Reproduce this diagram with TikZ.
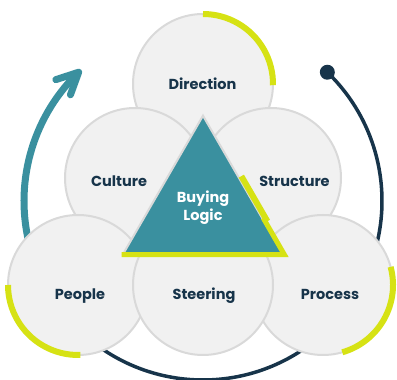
\documentclass[tikz,border=0pt]{standalone}
\usepackage{fontspec}
\setmainfont{Poppins}
\usetikzlibrary{
  positioning,
  shapes.geometric,
  arrows.meta,
  calc
}

\definecolor{ringgray}{HTML}{D9D9D9}
\definecolor{ringfill}{HTML}{F1F1F1}
\definecolor{accent}{HTML}{D6E214}
\definecolor{tealblue}{HTML}{3A909F}
\definecolor{navy}{HTML}{17344A}

\begin{document}
\begin{tikzpicture}[
  x=1pt, y=1pt,
  every node/.style={font=\bfseries\fontsize{14.5}{18}\selectfont},
  ring/.style={circle, draw=ringgray, fill=ringfill, line width=2pt, minimum size=140pt, inner sep=0pt},
  ringtext/.style={text=navy, anchor=base, inner sep=0pt},
  logic/.style={regular polygon, regular polygon sides=3, draw=ringgray, fill=tealblue, line width=2pt, minimum size=184pt, inner sep=0pt, text=white, align=center},
  accentarc/.style={draw=accent, line width=6pt},
  accentedge/.style={draw=accent, line width=5pt},
  loopline/.style={draw=navy, line width=3.5pt},
  flow/.style={draw=tealblue, line width=7pt},
  flowhead/.style={draw=tealblue, line width=7pt, line cap=round, line join=round},
  dot/.style={circle, fill=navy, minimum size=15pt, inner sep=0pt}
]
\useasboundingbox (0,0) rectangle (397,380);

% Cycle arcs
\coordinate (hub) at (203,179);
\coordinate (tip) at ([shift={(134:179)}]hub);
\node[dot] (start) at ([shift={(46:179)}]hub) {};
\draw[loopline] (start.center) arc[start angle=46, end angle=-130, radius=179];
\draw[flow] ([shift={(195:179)}]hub) arc[start angle=195, end angle=135, radius=179];
\draw[flowhead] ([shift={(250:24)}]tip) -- (tip) -- ([shift={(198:24)}]tip);

% Circles
\node[ring] (direction) at (203,296) {};
\node[ring] (culture) at (135,202) {};
\node[ring] (structure) at (271,202) {};
\node[ring] (people) at (78,95) {};
\node[ring] (process) at (323,95) {};
\node[ring] (steering) at (203,95) {};

% Accents
\draw[accentarc] ([shift={(90:70)}]direction.center) arc[start angle=90, end angle=-1, radius=70];
\draw[accentarc] ([shift={(180:70)}]people.center) arc[start angle=180, end angle=272, radius=70];
\draw[accentarc] ([shift={(15:70)}]process.center) arc[start angle=15, end angle=-74, radius=70];

% Triangle
\node[logic] (buying) at (203,172.3) {Buying\\Logic};
\draw[accentedge] ($(buying.corner 1)!0.74!(buying.corner 3)$) -- (buying.corner 3) -- (buying.corner 2);
\draw[accent, line width=6pt] ($(buying.corner 1)!0.45!(buying.corner 3) + (1.7,1)$) -- ($(buying.corner 1)!0.77!(buying.corner 3) + (1.7,1)$);

% Labels
\node[ringtext] (directiontext) at (202.5,290) {Direction};
\node[ringtext] (culturetext) at (119,193) {Culture};
\node[ringtext] (structuretext) at (294.5,193) {Structure};
\node[ringtext] (peopletext) at (80,80) {People};
\node[ringtext] (steeringtext) at (204,80) {Steering};
\node[ringtext] (processtext) at (330,80) {Process};

\end{tikzpicture}
\end{document}
